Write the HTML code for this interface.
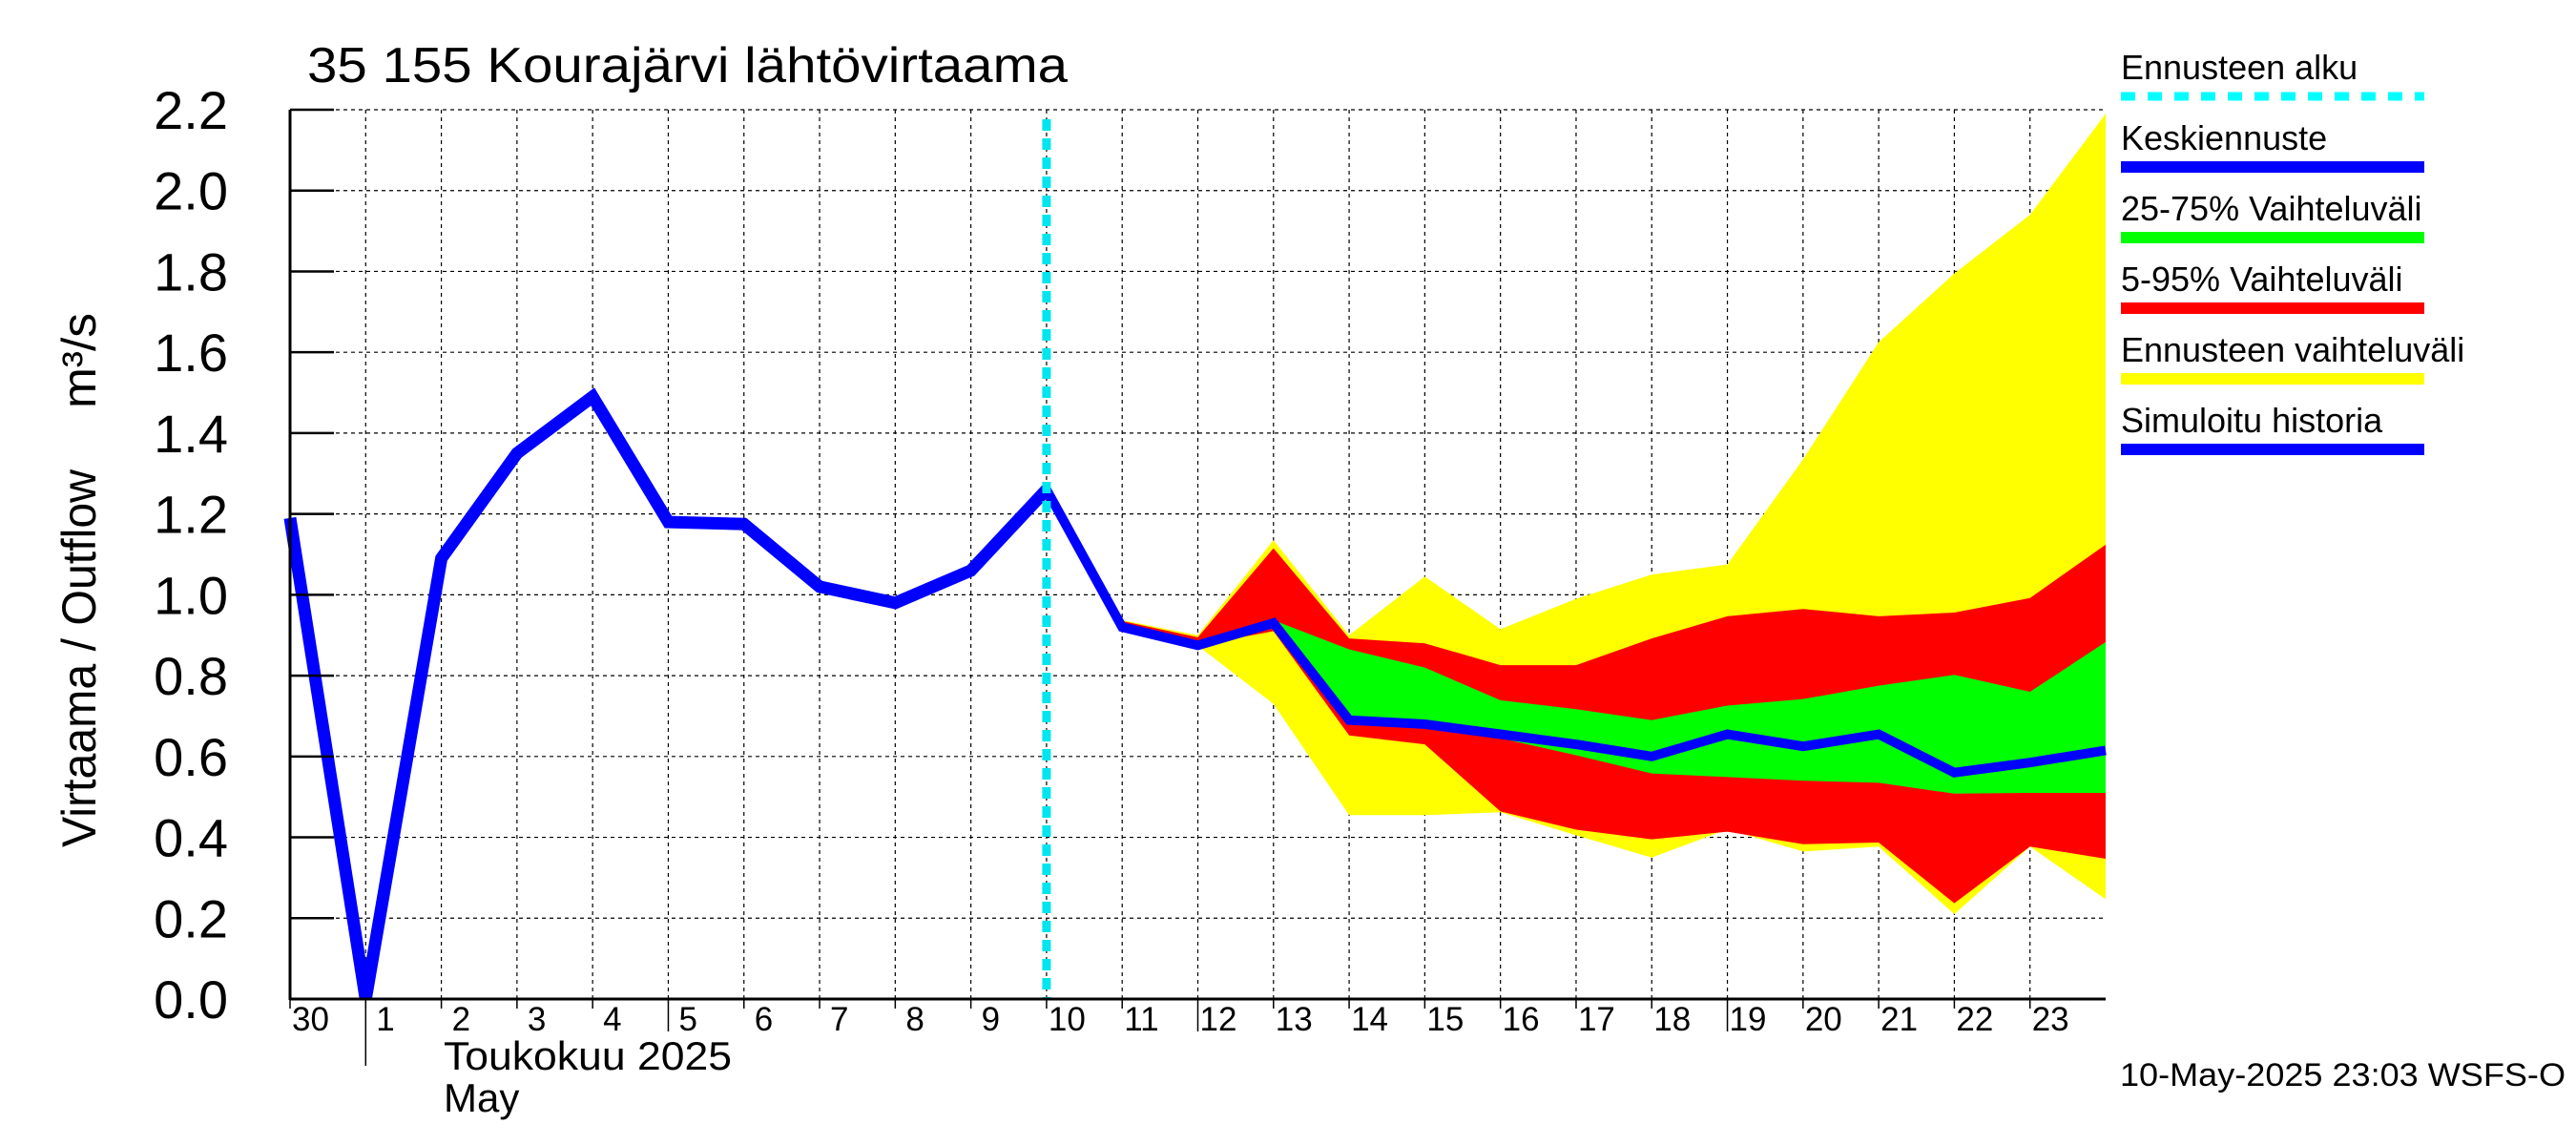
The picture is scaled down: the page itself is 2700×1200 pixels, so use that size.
<!DOCTYPE html>
<html><head><meta charset="utf-8"><style>
html,body{margin:0;padding:0;background:#fff;}
svg{display:block;font-family:"Liberation Sans",sans-serif;}
</style></head><body>
<svg id="chart" width="2700" height="1200" viewBox="0 0 2700 1200" xmlns="http://www.w3.org/2000/svg">
<rect width="2700" height="1200" fill="#fff"/>
<g id="grid"></g>
<g id="bands"></g>
<g id="lines"></g>
<g id="axes"></g>
<text x="322" y="86" font-size="52" textLength="797" lengthAdjust="spacingAndGlyphs">35 155 Kourajärvi lähtövirtaama</text>
<text transform="translate(100,888) rotate(-90)" font-size="50" textLength="396" lengthAdjust="spacingAndGlyphs">Virtaama / Outflow</text>
<text transform="translate(100,428) rotate(-90)" font-size="50" textLength="100" lengthAdjust="spacingAndGlyphs">m³/s</text>
<text x="465" y="1121" font-size="42" textLength="302" lengthAdjust="spacingAndGlyphs">Toukokuu  2025</text>
<text x="465" y="1165" font-size="42">May</text>
<g id="legend"></g>
<text x="2222" y="1138" font-size="34" textLength="467" lengthAdjust="spacingAndGlyphs">10-May-2025 23:03 WSFS-O</text>
</svg>
<script>
// data
const dayLabels = ["30","1","2","3","4","5","6","7","8","9","10","11","12","13","14","15","16","17","18","19","20","21","22","23"];
const yTicks = [0.0,0.2,0.4,0.6,0.8,1.0,1.2,1.4,1.6,1.8,2.0,2.2];
const histDays = [0,1,2,3,4,5,6,7,8,9,10];
const histValues = [1.19,0.0,1.09,1.35,1.49,1.18,1.175,1.02,0.98,1.06,1.26];
const fcDays = [10,11,12,13,14,15,16,17,18,19,20,21,22,23,24];
const fcMedian = [1.26,0.92,0.875,0.93,0.69,0.68,0.655,0.63,0.60,0.655,0.625,0.655,0.56,0.585,0.615];
const bandDays = [11,12,13,14,15,16,17,18,19,20,21,22,23,24];
const yellowHi = [0.937,0.90,1.135,0.90,1.045,0.915,0.99,1.05,1.075,1.335,1.625,1.795,1.94,2.19];
const yellowLo = [0.92,0.874,0.73,0.455,0.455,0.462,0.405,0.35,0.42,0.365,0.377,0.21,0.377,0.247];
const redHi = [0.935,0.895,1.115,0.892,0.88,0.826,0.826,0.892,0.947,0.965,0.947,0.956,0.992,1.124];
const redLo = [0.92,0.875,0.91,0.652,0.63,0.464,0.419,0.395,0.414,0.383,0.387,0.237,0.377,0.347];
const greenHi = [0.93,0.885,0.937,0.865,0.82,0.739,0.717,0.69,0.726,0.742,0.775,0.802,0.76,0.883];
const greenLo = [0.92,0.875,0.92,0.69,0.68,0.645,0.603,0.558,0.549,0.54,0.535,0.508,0.51,0.51];
const forecastStartDay = 10;
const legendLabels = ["Ennusteen alku","Keskiennuste","25-75% Vaihteluväli","5-95% Vaihteluväli","Ennusteen vaihteluväli","Simuloitu historia"];

const NS="http://www.w3.org/2000/svg";
const X0=304, X1=2207, Y0=1047, Y1=115, DAYS=24, VMAX=2.2;
const xs=d=>X0+d*(X1-X0)/DAYS;
const ys=v=>Y0-v*(Y0-Y1)/VMAX;
function mk(tag,attrs,parent){const e=document.createElementNS(NS,tag);for(const k in attrs)e.setAttribute(k,attrs[k]);parent.appendChild(e);return e;}
const grid=document.getElementById('grid'),bands=document.getElementById('bands'),lines=document.getElementById('lines'),axes=document.getElementById('axes'),legend=document.getElementById('legend');

yTicks.forEach(v=>{
  const y=ys(v);
  if(v>0){const l=mk('line',{x1:X0,x2:X1,y1:y,y2:y,stroke:'#000','stroke-width':1.2,'stroke-dasharray':'4,4'},grid);
  
  }
  const t=mk('line',{x1:X0,x2:X0+46,y1:y,y2:y,stroke:'#000','stroke-width':2.5},axes);
  
  
  const tx=mk('text',{x:239,y:y+20,'text-anchor':'end','font-size':56},axes);
  tx.textContent=v.toFixed(1);
  
  
});
dayLabels.forEach((lab,i)=>{
  const x=xs(i);
  if(i>0){const l=mk('line',{x1:x,x2:x,y1:Y1,y2:Y0,stroke:'#000','stroke-width':1.2,'stroke-dasharray':'4,4'},grid);
  
  }
  const long=(i===5||i===12||i===19);
  const t=mk('line',{x1:x,x2:x,y1:Y0,y2:Y0+(long?34:10),stroke:'#000','stroke-width':1.5},axes);
  
  
  const tx=mk('text',{x:x+(lab.length>1?2:11),y:1080,'font-size':35},axes);
  tx.textContent=lab;
  
  
});
const mt=mk('line',{x1:xs(1),x2:xs(1),y1:Y0,y2:1117,stroke:'#000','stroke-width':1.5},axes);



function band(hi,lo,color,name){
  let pts=bandDays.map((d,i)=>xs(d)+','+ys(hi[i]));
  for(let i=bandDays.length-1;i>=0;i--)pts.push(xs(bandDays[i])+','+ys(lo[i]));
  const p=mk('polygon',{points:pts.join(' '),fill:color},bands);
  
  
}
band(yellowHi,yellowLo,'#ffff00','band-forecast-range');
band(redHi,redLo,'#ff0000','band-5-95');
band(greenHi,greenLo,'#00ff00','band-25-75');

const hp=mk('polyline',{points:histDays.map((d,i)=>xs(d)+','+ys(histValues[i])).join(' '),fill:'none',stroke:'#0000ff','stroke-width':13},lines);


const fp=mk('polyline',{points:fcDays.map((d,i)=>xs(d)+','+ys(fcMedian[i])).join(' '),fill:'none',stroke:'#0000ff','stroke-width':10},lines);


const fs=mk('line',{x1:xs(forecastStartDay),x2:xs(forecastStartDay),y1:Y1+10,y2:Y0,stroke:'#00e5ee','stroke-width':9,'stroke-dasharray':'12,8'},lines);



const ax1=mk('line',{x1:X0,x2:X0,y1:Y1,y2:Y0+1,stroke:'#000','stroke-width':3},axes);


const ax2=mk('line',{x1:X0,x2:X1,y1:Y0,y2:Y0,stroke:'#000','stroke-width':3},axes);



const legColors=['#00ffff','#0000ff','#00ff00','#ff0000','#ffff00','#0000ff'];
legendLabels.forEach((lab,i)=>{
  const y=101+i*74;
  const t=mk('text',{x:2223,y:y-18,'font-size':36},legend);
  t.textContent=lab;
  
  
  const a={x1:2223,x2:2541,y1:y,y2:y,stroke:legColors[i],'stroke-width':i===0?9:12};
  if(i===0)a['stroke-dasharray']='15,13';
  const l=mk('line',a,legend);
  
  
});
</script>
</body></html>
